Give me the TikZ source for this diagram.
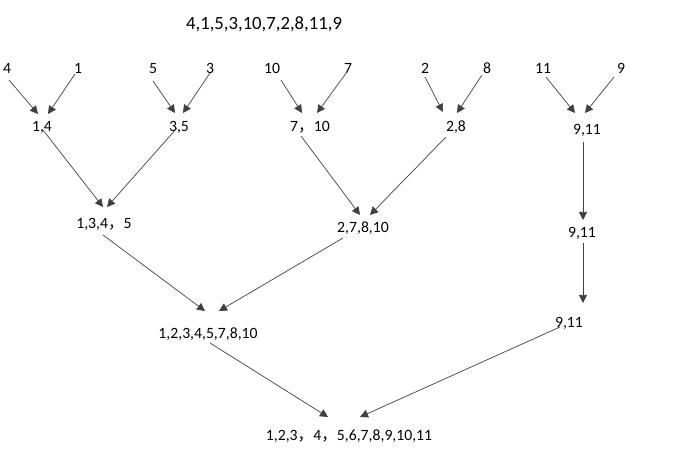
\documentclass[tikz,border=0pt]{standalone}
\usepackage{fontspec}
\setmainfont{Carlito}
\newfontfamily\cjk{Noto Sans CJK SC}
\usetikzlibrary{calc,arrows.meta}
\newcommand{\fc}{{\cjk ，}}

\begin{document}
\begin{tikzpicture}[x=1pt,y=-1pt,
    num/.style={inner sep=0pt,text height=10pt,text depth=0pt,font=\fontsize{15.7}{18}\selectfont},
    arr/.style={draw=black!75,line width=0.7pt,-{Triangle[length=8pt,width=8pt]}}]
        \useasboundingbox (0,0) rectangle (694,449);
        \node[num,font=\fontsize{18.7}{22}\selectfont,text height=12pt] (title) at (264,24) {4,1,5,3,10,7,2,8,11,9};
        % first row
        \foreach \n/\x in {4/7,1/78,5/153,3/210,10/272,7/348,2/425,8/487,11/543,9/621}
        \node[num] (t\n) at (\x,69) {\n};
        % pairs
        \node[num] (m14) at (42,127) {1,4};
        \node[num] (m35) at (179,127) {3,5};
        \node[num] (m710) at (310,127) {7\fc10};
        \node[num] (m28) at (456,127) {2,8};
        \node[num] (m911) at (587,130) {9,11};
        % fours
        \node[num] (l1345) at (104,224) {1,3,4\fc5};
        \node[num] (l27810) at (363,228) {2,7,8,10};
        \node[num] (l911) at (582,233) {9,11};
        % eights
        \node[num] (b12) at (208,333) {1,2,3,4,5,7,8,10};
        \node[num] (b911) at (569,322) {9,11};
        % result
        \node[num] (fin) at (349,435) {1,2,3\fc4\fc5,6,7,8,9,10,11};

        \draw[arr] ($(t4)+(2,11)$) -- ($(m14)+(-4,-13)$);
        \draw[arr] ($(t1)+(-3,5)$) -- ($(m14)+(6,-13)$);
        \draw[arr] ($(t5)+(0,12)$) -- ($(m35)+(-4,-14)$);
        \draw[arr] ($(t3)+(0,4)$) -- ($(m35)+(4,-14)$);
        \draw[arr] ($(t10)+(9,11)$) -- ($(m710)+(-8,-14)$);
        \draw[arr] ($(t7)+(-1,3)$) -- ($(m710)+(7,-14)$);
        \draw[arr] ($(t2)+(0,8)$) -- ($(m28)+(-13,-15)$);
        \draw[arr] ($(t8)+(-5,6)$) -- ($(m28)+(1,-14)$);
        \draw[arr] ($(t11)+(3,8)$) -- ($(m911)+(-12,-17)$);
        \draw[arr] ($(t9)+(-7,8)$) -- ($(m911)+(-2,-17)$);

        \draw[arr] ($(m14)+(1,3)$) -- ($(l1345)+(-1,-17)$);
        \draw[arr] ($(m35)+(-2,1)$) -- ($(l1345)+(3,-17)$);
        \draw[arr] ($(m710)+(-9,9)$) -- ($(l27810)+(-3,-13)$);
        \draw[arr] ($(m28)+(-10,10)$) -- ($(l27810)+(7,-13)$);
        \draw[arr] ($(m911)+(-4,12)$) -- ($(l911)+(1,-13)$);

        \draw[arr] ($(l1345)+(-1,11)$) -- ($(b12)+(-3,-22)$);
        \draw[arr] ($(l27810)+(-20,10)$) -- ($(b12)+(11,-22)$);
        \draw[arr] ($(l911)+(1,10)$) -- ($(b911)+(14,-19)$);

        \draw[arr] ($(b12)+(2,10)$) -- ($(fin)+(-21,-18)$);
        \draw[arr] ($(b911)+(-9,5)$) -- ($(fin)+(11,-18)$);
\end{tikzpicture}
\end{document}
